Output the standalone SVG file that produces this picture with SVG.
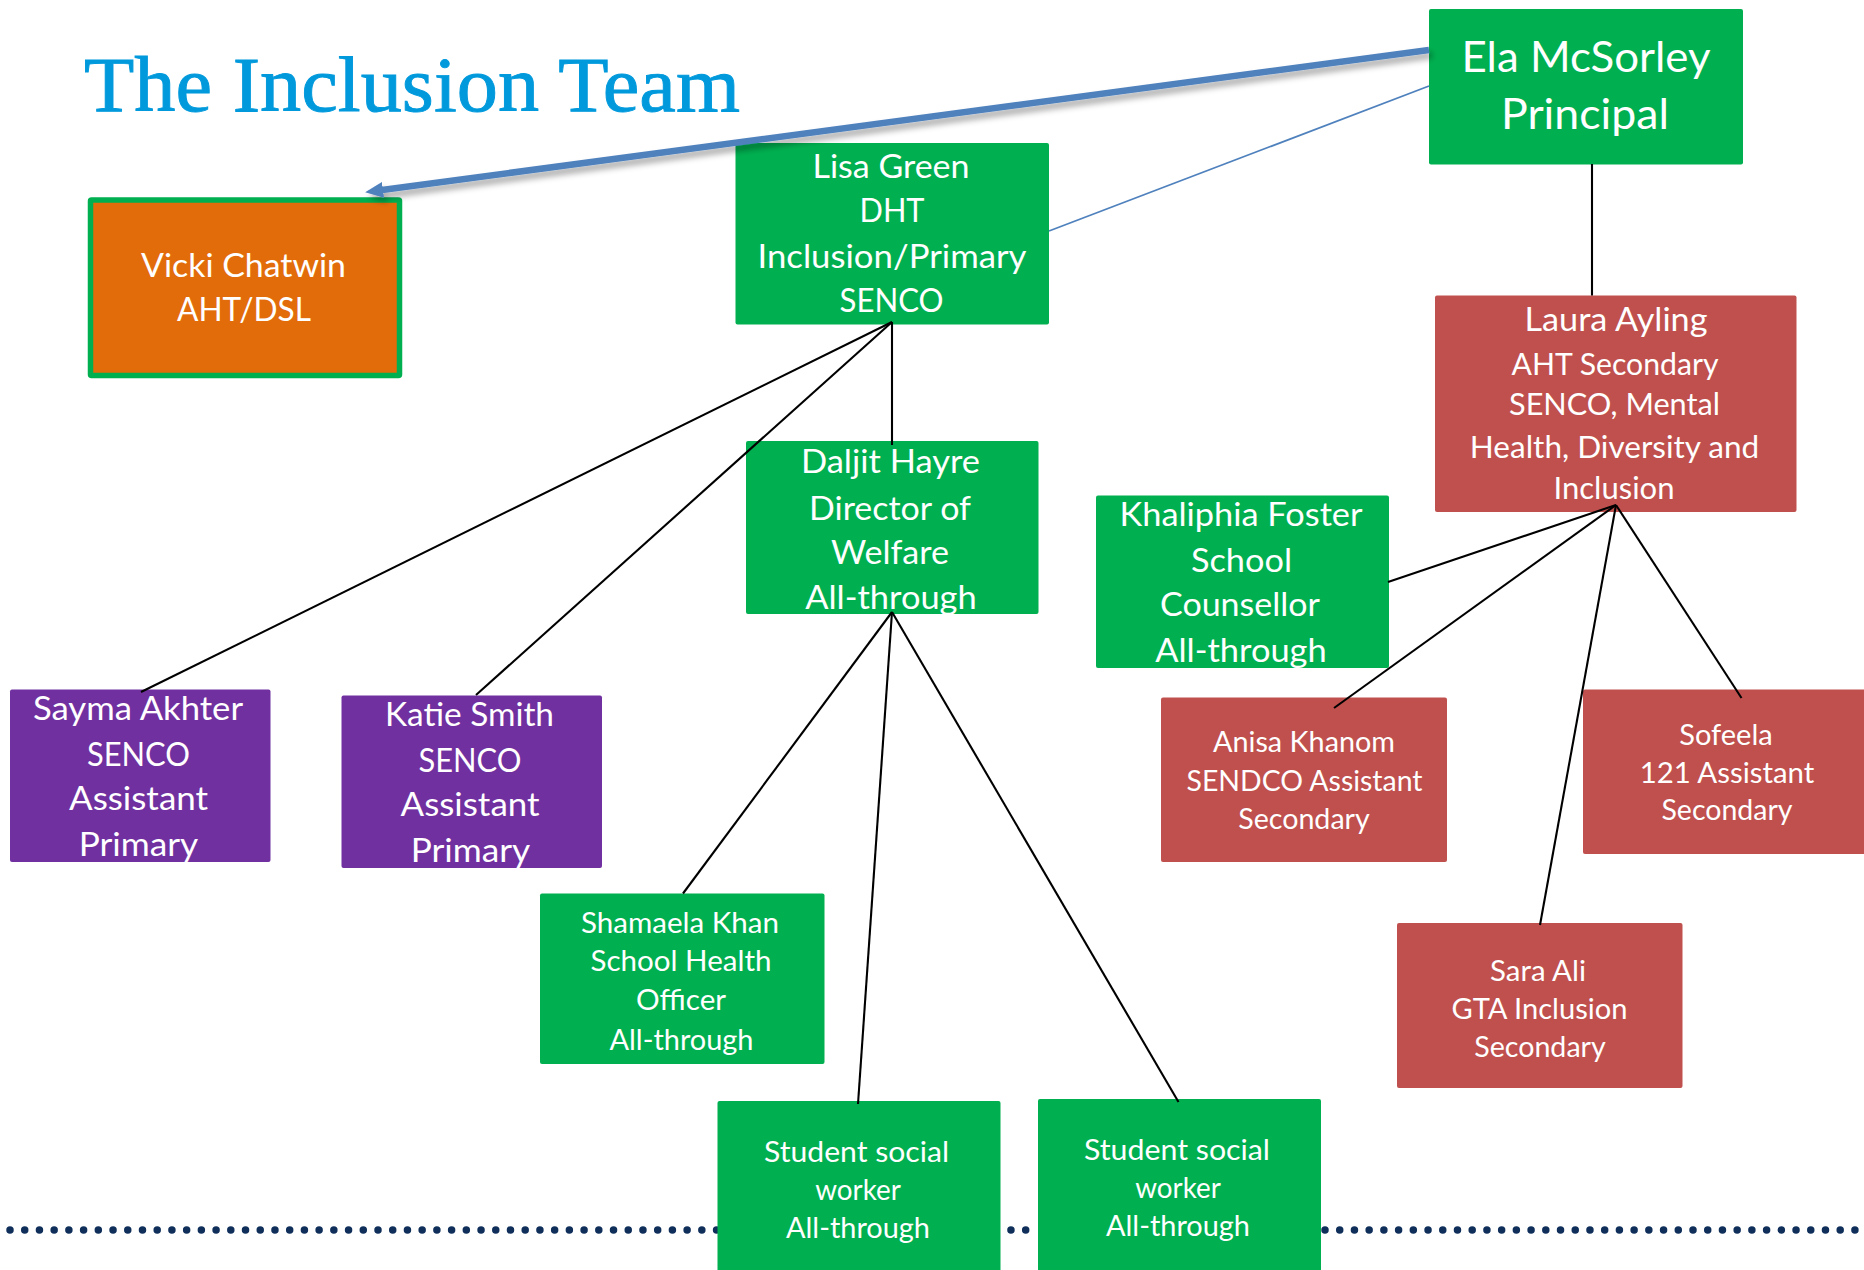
<svg xmlns="http://www.w3.org/2000/svg" width="1864" height="1270" viewBox="0 0 1864 1270">
<style>
.g{fill:#00B050}.r{fill:#C0504D}.p{fill:#7030A0}
text{font-family:"Lato","Liberation Sans",sans-serif;fill:#fff;text-anchor:middle;transform:translateY(0.8px)}
.s{font-size:28px}.m{font-size:32px}.l{font-size:30px}.x{font-size:42px}
.title{font-family:"Liberation Serif",serif;font-size:78px;fill:#0099DC;stroke:#0099DC;stroke-width:0.9;text-anchor:start}
.k{stroke:#000;stroke-width:2.100;fill:none}
.dots{stroke:#0F2F5A;stroke-width:7.500;stroke-linecap:round;stroke-dasharray:0 14.72;fill:none}
</style>
<defs>
<filter id="sh" x="-5%" y="-50%" width="110%" height="200%"><feDropShadow dx="3" dy="5" stdDeviation="3" flood-color="#000" flood-opacity="0.35"/></filter>
<marker id="ah" markerUnits="userSpaceOnUse" markerWidth="20" markerHeight="18" refX="1" refY="9" orient="auto"><path d="M0 1L18 9L0 17Z" fill="#4F81BD"/></marker>
</defs>
<rect width="1864" height="1270" fill="#fff"/>
<line class="dots" x1="10" y1="1230" x2="1040" y2="1230"/>
<line class="dots" x1="1325" y1="1230" x2="1864" y2="1230"/>
<text class="title" x="84" y="110" textLength="656" lengthAdjust="spacingAndGlyphs">The Inclusion Team</text>

<g id="node-ela"><rect class="g" x="1429" y="9" width="314" height="155.500" rx="2"/>
<text class="x" x="1586" y="71" textLength="249" lengthAdjust="spacingAndGlyphs">Ela McSorley</text>
<text class="x" x="1585" y="128.500" textLength="168" lengthAdjust="spacingAndGlyphs">Principal</text></g>

<g id="node-vicki"><rect x="90.500" y="200" width="309" height="175.500" rx="1" fill="#E36C0A" stroke="#00B050" stroke-width="5.500"/>
<text class="m" x="243.500" y="276" textLength="205" lengthAdjust="spacingAndGlyphs">Vicki Chatwin</text>
<text class="m" x="244" y="320" textLength="134" lengthAdjust="spacingAndGlyphs">AHT/DSL</text></g>

<g id="node-lisa"><rect class="g" x="735.500" y="143" width="313.500" height="181.500" rx="2"/>
<text class="m" x="891" y="177.500" textLength="157" lengthAdjust="spacingAndGlyphs">Lisa Green</text>
<text class="m" x="892" y="221.500" textLength="65" lengthAdjust="spacingAndGlyphs">DHT</text>
<text class="m" x="892" y="267" textLength="269" lengthAdjust="spacingAndGlyphs">Inclusion/Primary</text>
<text class="m" x="891.500" y="311.500" textLength="104" lengthAdjust="spacingAndGlyphs">SENCO</text></g>

<g id="node-laura"><rect class="r" x="1435" y="295.500" width="361.500" height="216.500" rx="2"/>
<text class="m" x="1616" y="330.500" textLength="183" lengthAdjust="spacingAndGlyphs">Laura Ayling</text>
<text class="l" x="1615" y="374.500" textLength="207" lengthAdjust="spacingAndGlyphs">AHT Secondary</text>
<text class="l" x="1614.500" y="414.500" textLength="211" lengthAdjust="spacingAndGlyphs">SENCO, Mental</text>
<text class="l" x="1614.500" y="457" textLength="289.500" lengthAdjust="spacingAndGlyphs">Health, Diversity and</text>
<text class="l" x="1614" y="498.500" textLength="121" lengthAdjust="spacingAndGlyphs">Inclusion</text></g>

<g id="node-daljit"><rect class="g" x="746" y="441" width="292.500" height="173" rx="2"/>
<text class="m" x="890.500" y="472.500" textLength="179" lengthAdjust="spacingAndGlyphs">Daljit Hayre</text>
<text class="m" x="890" y="519" textLength="162" lengthAdjust="spacingAndGlyphs">Director of</text>
<text class="m" x="890" y="563" textLength="118" lengthAdjust="spacingAndGlyphs">Welfare</text>
<text class="m" x="891" y="608" textLength="171.500" lengthAdjust="spacingAndGlyphs">All-through</text></g>

<g id="node-khaliphia"><rect class="g" x="1096" y="495.500" width="293" height="172.500" rx="2"/>
<text class="m" x="1241" y="525.500" textLength="243" lengthAdjust="spacingAndGlyphs">Khaliphia Foster</text>
<text class="m" x="1241.500" y="571" textLength="101" lengthAdjust="spacingAndGlyphs">School</text>
<text class="m" x="1240" y="615.500" textLength="160" lengthAdjust="spacingAndGlyphs">Counsellor</text>
<text class="m" x="1241" y="661" textLength="171.500" lengthAdjust="spacingAndGlyphs">All-through</text></g>

<g id="node-sayma"><rect class="p" x="10" y="689.500" width="260.500" height="172.500" rx="2"/>
<text class="m" x="138" y="719.500" textLength="210" lengthAdjust="spacingAndGlyphs">Sayma Akhter</text>
<text class="m" x="138.500" y="765" textLength="103" lengthAdjust="spacingAndGlyphs">SENCO</text>
<text class="m" x="138.500" y="809.500" textLength="139" lengthAdjust="spacingAndGlyphs">Assistant</text>
<text class="m" x="138.500" y="855" textLength="119.500" lengthAdjust="spacingAndGlyphs">Primary</text></g>

<g id="node-katie"><rect class="p" x="341.500" y="695.500" width="260.500" height="172.500" rx="2"/>
<text class="m" x="469.500" y="725.500" textLength="169" lengthAdjust="spacingAndGlyphs">Katie Smith</text>
<text class="m" x="470" y="771.500" textLength="103" lengthAdjust="spacingAndGlyphs">SENCO</text>
<text class="m" x="470" y="815.500" textLength="139" lengthAdjust="spacingAndGlyphs">Assistant</text>
<text class="m" x="470.500" y="861" textLength="119.500" lengthAdjust="spacingAndGlyphs">Primary</text></g>

<g id="node-anisa"><rect class="r" x="1161" y="697.500" width="286" height="164.500" rx="2"/>
<text class="s" x="1304" y="751.500" textLength="182" lengthAdjust="spacingAndGlyphs">Anisa Khanom</text>
<text class="s" x="1304.500" y="790" textLength="236" lengthAdjust="spacingAndGlyphs">SENDCO Assistant</text>
<text class="s" x="1304" y="828" textLength="131.500" lengthAdjust="spacingAndGlyphs">Secondary</text></g>

<g id="node-sofeela"><rect class="r" x="1583" y="689.500" width="290" height="164.500" rx="2"/>
<text class="s" x="1726" y="744" textLength="93.500" lengthAdjust="spacingAndGlyphs">Sofeela</text>
<text class="s" x="1727" y="782" textLength="174.500" lengthAdjust="spacingAndGlyphs">121 Assistant</text>
<text class="s" x="1727" y="819.500" textLength="131" lengthAdjust="spacingAndGlyphs">Secondary</text></g>

<g id="node-sara"><rect class="r" x="1397" y="923" width="285.500" height="165" rx="2"/>
<text class="s" x="1538" y="980" textLength="96" lengthAdjust="spacingAndGlyphs">Sara Ali</text>
<text class="s" x="1539.500" y="1018" textLength="176" lengthAdjust="spacingAndGlyphs">GTA Inclusion</text>
<text class="s" x="1540" y="1056" textLength="131.500" lengthAdjust="spacingAndGlyphs">Secondary</text></g>

<g id="node-shamaela"><rect class="g" x="540" y="893.500" width="284.500" height="170.500" rx="2"/>
<text class="s" x="680" y="932.500" textLength="198" lengthAdjust="spacingAndGlyphs">Shamaela Khan</text>
<text class="s" x="681" y="970.500" textLength="181" lengthAdjust="spacingAndGlyphs">School Health</text>
<text class="s" x="681" y="1009" textLength="90" lengthAdjust="spacingAndGlyphs">Officer</text>
<text class="s" x="681.500" y="1049" textLength="144" lengthAdjust="spacingAndGlyphs">All-through</text></g>

<g id="node-ssw1"><rect class="g" x="717.500" y="1101" width="283" height="180" rx="2"/>
<text class="s" x="856.500" y="1161" textLength="185" lengthAdjust="spacingAndGlyphs">Student social</text>
<text class="s" x="858" y="1199" textLength="85.500" lengthAdjust="spacingAndGlyphs">worker</text>
<text class="s" x="858" y="1237.500" textLength="144" lengthAdjust="spacingAndGlyphs">All-through</text></g>

<g id="node-ssw2"><rect class="g" x="1038" y="1099" width="283" height="182" rx="2"/>
<text class="s" x="1177" y="1159" textLength="186" lengthAdjust="spacingAndGlyphs">Student social</text>
<text class="s" x="1178" y="1197.500" textLength="85.500" lengthAdjust="spacingAndGlyphs">worker</text>
<text class="s" x="1178" y="1235.500" textLength="144" lengthAdjust="spacingAndGlyphs">All-through</text></g>

<g id="connectors">
<line x1="1429" y1="50" x2="382" y2="190" stroke="#4F81BD" stroke-width="6.500" marker-end="url(#ah)" filter="url(#sh)"/>
<line x1="1429" y1="86" x2="1049" y2="231" stroke="#4F81BD" stroke-width="1.800"/>
<line class="k" x1="892" y1="322" x2="141" y2="692"/>
<line class="k" x1="892" y1="322" x2="476" y2="695"/>
<line class="k" x1="892" y1="322" x2="892" y2="445"/>
<line class="k" x1="1592" y1="164" x2="1592" y2="295.500"/>
<line class="k" x1="1616" y1="505" x2="1388" y2="582"/>
<line class="k" x1="1616" y1="505" x2="1334" y2="708"/>
<line class="k" x1="1616" y1="505" x2="1540" y2="925"/>
<line class="k" x1="1616" y1="505" x2="1741.500" y2="698"/>
<line class="k" x1="892" y1="612" x2="683" y2="893.500"/>
<line class="k" x1="892" y1="612" x2="858" y2="1104"/>
<line class="k" x1="892" y1="612" x2="1178.500" y2="1102"/>
</g>
</svg>
